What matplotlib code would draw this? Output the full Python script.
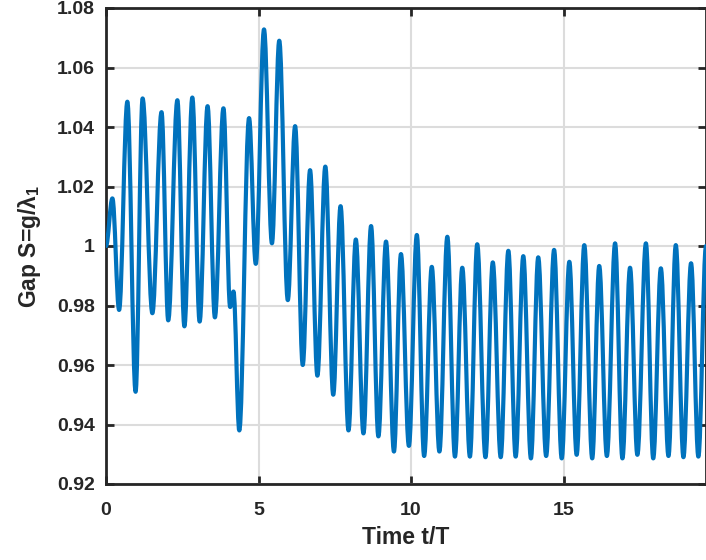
import numpy as np
import matplotlib.pyplot as plt
from matplotlib.path import Path
from matplotlib.patches import PathPatch

# extrema of the gap signal (time in t/T, gap S)
t_ext = [0.00, 0.21, 0.43, 0.70, 0.97, 1.20, 1.52, 1.82, 2.04, 2.34, 2.57, 2.83,
         3.07, 3.33, 3.57, 3.85, 4.07, 4.18, 4.37, 4.69, 4.91, 5.18, 5.44, 5.68,
         5.96, 6.20, 6.45, 6.69, 6.93, 7.19, 7.45, 7.69, 7.95, 8.19, 8.44, 8.69,
         8.93, 9.18, 9.44, 9.67, 9.93, 10.19, 10.43, 10.68, 10.93, 11.19, 11.44,
         11.68, 11.93, 12.17, 12.44, 12.68, 12.94, 13.19, 13.43, 13.68, 13.93,
         14.17, 14.43, 14.69, 14.94, 15.19, 15.43, 15.68, 15.94, 16.17, 16.42,
         16.69, 16.93, 17.18, 17.42, 17.70, 17.94, 18.19, 18.44, 18.68, 18.93,
         19.18, 19.42, 19.67]
s_ext = [1.000, 1.016, 0.9785, 1.0485, 0.951, 1.0496, 0.9774, 1.045, 0.975, 1.049,
         0.973, 1.0499, 0.9746, 1.047, 0.976, 1.0463, 0.9795, 0.9847, 0.938, 1.043,
         0.994, 1.0728, 1.0009, 1.069, 0.9818, 1.0403, 0.960, 1.0255, 0.9564, 1.0267,
         0.950, 1.0134, 0.938, 1.0022, 0.937, 1.0067, 0.936, 1.0015, 0.9309, 0.9973,
         0.9328, 1.0037, 0.9294, 0.993, 0.9309, 1.0031, 0.9292, 0.9927, 0.9292,
         1.0006, 0.929, 0.9945, 0.929, 0.9984, 0.9292, 0.9966, 0.9286, 0.9962,
         0.9294, 0.9987, 0.9286, 0.9947, 0.9298, 1.0003, 0.9286, 0.9933, 0.9294,
         1.0009, 0.9286, 0.9927, 0.9298, 1.0009, 0.9286, 0.9925, 0.9294, 1.0003,
         0.929, 0.9942, 0.9292, 1.000]

xticks = [0, 5, 10, 15]
yticks = [0.92, 0.94, 0.96, 0.98, 1.00, 1.02, 1.04, 1.06, 1.08]
ytick_labels = ["0.92", "0.94", "0.96", "0.98", "1", "1.02", "1.04", "1.06", "1.08"]

plt.rcParams["font.family"] = "Liberation Sans"
plt.rcParams["font.weight"] = "bold"
plt.rcParams["mathtext.fontset"] = "custom"
plt.rcParams["mathtext.rm"] = "Liberation Sans:bold"
plt.rcParams["mathtext.default"] = "regular"

fig = plt.figure(figsize=(7.06, 5.6), dpi=100)
ax = fig.add_axes([106 / 706, 76 / 560, 600 / 706, 476 / 560])

# smooth the line between extrema with cubic bezier segments (flat at each extremum)
verts = [(t_ext[0], s_ext[0])]
codes = [Path.MOVETO]
for i in range(len(t_ext) - 1):
    d = t_ext[i + 1] - t_ext[i]
    verts += [(t_ext[i] + 0.36 * d, s_ext[i]),
              (t_ext[i + 1] - 0.36 * d, s_ext[i + 1]),
              (t_ext[i + 1], s_ext[i + 1])]
    codes += [Path.CURVE4] * 3
ax.add_patch(PathPatch(Path(verts, codes), facecolor="none", edgecolor="#0072BD",
                       linewidth=3.0, joinstyle="round", capstyle="round", zorder=3))

ax.set_xlim(0, 19.67)
ax.set_ylim(0.92, 1.08)
ax.set_xticks(xticks)
ax.set_yticks(yticks)
ax.set_yticklabels(ytick_labels)
ax.grid(True, color="#dcdcdc", linewidth=1.5)
ax.set_axisbelow(True)

for sp in ax.spines.values():
    sp.set_color("#262626")
    sp.set_linewidth(2.0)
ax.tick_params(direction="in", length=6, width=2, colors="#262626",
               labelsize=14, top=True, right=True)
ax.tick_params(axis="x", pad=13)
ax.tick_params(axis="y", pad=8)
for lab in ax.get_xticklabels() + ax.get_yticklabels():
    lab.set_fontweight("bold")

ax.set_xlabel("Time t/T", fontsize=16.5, fontweight="bold", color="#262626", labelpad=5)
ax.set_ylabel("Gap S=g/λ$_1$", fontsize=16.5, fontweight="bold", color="#262626", labelpad=10)

fig.savefig("out.png", dpi=100)
